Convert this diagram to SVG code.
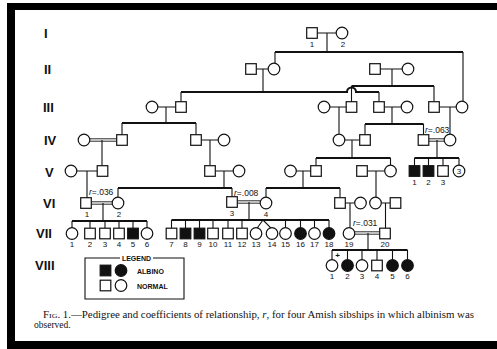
<svg xmlns="http://www.w3.org/2000/svg" width="497" height="349" viewBox="0 0 497 349">
<style>
.s{fill:#fff;stroke:#111;stroke-width:1.2}
.f{fill:#111;stroke:#111;stroke-width:1.2}
.ln{fill:none;stroke:#111;stroke-width:1.1}
.sib{fill:none;stroke:#111;stroke-width:2}
.dbl{fill:none;stroke:#111;stroke-width:0.9}
.gen{font-family:"Liberation Sans",Arial,sans-serif;font-weight:bold;font-size:13px;fill:#111}
.n{font-family:"Liberation Sans",Arial,sans-serif;font-size:8px;fill:#111;text-anchor:middle}
.r{font-family:"Liberation Sans",Arial,sans-serif;font-size:8.5px;fill:#111}
.lg{font-family:"Liberation Sans",Arial,sans-serif;font-weight:bold;font-size:7px;fill:#111}
.cap{font-family:"Liberation Serif","Times New Roman",serif;font-size:9.5px;fill:#111}
</style>
<defs>
<rect id="sq" x="-5.3" y="-5.3" width="10.6" height="10.6"/>
<circle id="ci" r="5.8"/>
</defs>
<rect width="497" height="349" fill="#fff"/>
<g id="frame" fill="#000">
<rect x="7" y="3" width="490" height="7"/>
<rect x="7" y="3" width="8" height="346"/>
<rect x="7" y="341" width="490" height="8"/>
</g>
<g id="generations">
<text class="gen" x="44" y="38">I</text>
<text class="gen" x="44" y="74">II</text>
<text class="gen" x="43" y="112">III</text>
<text class="gen" x="44" y="145">IV</text>
<text class="gen" x="45" y="177">V</text>
<text class="gen" x="43" y="208">VI</text>
<text class="gen" x="36" y="238">VII</text>
<text class="gen" x="35" y="270">VIII</text>
</g>
<g id="connectors">
<!-- Gen I -->
<path class="ln" d="M317.3 33H336.2M327 33V52"/>
<path class="sib" d="M275 52H463"/>
<path class="ln" d="M275 52V63.2M463 52V101.2"/>
<!-- Gen II -->
<path class="ln" d="M256.3 69H268.2M263 69V92"/>
<path class="ln" d="M380.3 69H402.2M392 69V86"/>
<!-- Gen III sibships -->
<path class="sib" d="M181 92H347A4.5 4.5 0 0 1 356 92H379"/>
<path class="ln" d="M181 92V101.7M379 92V101.7"/>
<path class="sib" d="M351.5 86H434"/>
<path class="ln" d="M351.5 86V101.7M434 86V101.7"/>
<!-- Gen III marriages -->
<path class="ln" d="M157.8 107H175.7M166 107V123"/>
<path class="ln" d="M329.8 107H346.2M339 107V133.7"/>
<path class="ln" d="M384.3 107H401.2M392 107V124"/>
<path class="ln" d="M439.3 107H456.2M450 107V134.2"/>
<!-- Gen IV sibships -->
<path class="sib" d="M122 123H196"/>
<path class="ln" d="M122 123V134.7M196 123V134.7"/>
<path class="sib" d="M365 124H423.5"/>
<path class="ln" d="M365 124V134.7M423.5 124V134.7"/>
<!-- Gen IV marriages -->
<path class="dbl" d="M89.8 138.8H116.7M89.8 141.2H116.7"/>
<path class="ln" d="M102 140V165.7"/>
<path class="ln" d="M201.3 140H218.2M210 140V165.7"/>
<path class="ln" d="M344.8 140H359.7M352 140V158"/>
<path class="dbl" d="M428.8 138.8H444.2M428.8 141.2H444.2"/>
<path class="ln" d="M437 140V158"/>
<!-- Gen V sibships -->
<path class="sib" d="M316 158H390.5"/>
<path class="ln" d="M316 158V165.7M390.5 158V165.2"/>
<path class="sib" d="M414.5 158H459"/>
<path class="ln" d="M414.5 158V165.7M428.5 158V165.7M443 158V165.7M459 158V165.2"/>
<!-- Gen V marriages -->
<path class="ln" d="M76.8 171H97.7M87 171V197.7"/>
<path class="ln" d="M215.3 171H233.2M224 171V188"/>
<path class="ln" d="M296.3 171H310.7M303 171V188"/>
<path class="ln" d="M367.3 171H384.7M376 171V197.2"/>
<!-- Gen VI sibships -->
<path class="sib" d="M118 188H232"/>
<path class="ln" d="M118 188V197.2M232 188V196.7"/>
<path class="sib" d="M266 188H340"/>
<path class="ln" d="M266 188V197.2M340 188V197.7"/>
<!-- Gen VI marriages -->
<path class="dbl" d="M91.3 201.8H112.2M91.3 204.2H112.2"/>
<path class="ln" d="M103 203V221"/>
<path class="dbl" d="M237.3 200.8H260.2M237.3 203.2H260.2"/>
<path class="ln" d="M249 202V220"/>
<path class="ln" d="M345.3 203H354.7M350 203V227.5"/>
<path class="ln" d="M381.3 203H390.2M385.5 203V228"/>
<!-- Gen VII sibships -->
<path class="sib" d="M72 221H147"/>
<path class="ln" d="M72 221V227.7M90 221V228.2M105 221V228.2M119 221V228.2M133 221V228.2M147 221V227.7"/>
<path class="sib" d="M171.5 220H329"/>
<path class="ln" d="M171.5 220V228.2M185.5 220V228.2M199.5 220V228.2M213 220V228.2M228 220V228.2M242 220V228.2M263 220L257 228.2M263 220L271 228.2M285.5 220V227.7M300.5 220V227.7M314.5 220V227.7M329 220V227.7"/>
<!-- Gen VII marriage -->
<path class="dbl" d="M354.8 231.8H379.7M354.8 234.2H379.7"/>
<path class="ln" d="M368 233V250"/>
<!-- Gen VIII sibship -->
<path class="sib" d="M332 250H407.5"/>
<path class="ln" d="M332 250V259.7M347.5 250V259.7M362 250V259.7M377 250V260.2M392.5 250V259.7M407.5 250V259.7"/>
</g>
<g id="gen1">
<use id="I-1" href="#sq" class="s" x="312" y="33"/>
<use id="I-2" href="#ci" class="s" x="342" y="33"/>
<text class="n" x="312" y="47">1</text>
<text class="n" x="343" y="47">2</text>
</g>
<g id="gen2">
<use id="II-1" href="#sq" class="s" x="251" y="69"/>
<use id="II-2" href="#ci" class="s" x="274" y="69"/>
<use id="II-3" href="#sq" class="s" x="375" y="69"/>
<use id="II-4" href="#ci" class="s" x="408" y="69"/>
</g>
<g id="gen3">
<use id="III-1" href="#ci" class="s" x="152" y="107"/>
<use id="III-2" href="#sq" class="s" x="181" y="107"/>
<use id="III-3" href="#ci" class="s" x="324" y="107"/>
<use id="III-4" href="#sq" class="s" x="351.5" y="107"/>
<use id="III-5" href="#sq" class="s" x="379" y="107"/>
<use id="III-6" href="#ci" class="s" x="407" y="107"/>
<use id="III-7" href="#sq" class="s" x="434" y="107"/>
<use id="III-8" href="#ci" class="s" x="462" y="107"/>
</g>
<g id="gen4">
<use id="IV-1" href="#ci" class="s" x="84" y="140"/>
<use id="IV-2" href="#sq" class="s" x="122" y="140"/>
<use id="IV-3" href="#sq" class="s" x="196" y="140"/>
<use id="IV-4" href="#ci" class="s" x="224" y="140"/>
<use id="IV-5" href="#ci" class="s" x="339" y="140"/>
<use id="IV-6" href="#sq" class="s" x="365" y="140"/>
<use id="IV-7" href="#sq" class="s" x="423.5" y="140"/>
<use id="IV-8" href="#ci" class="s" x="450" y="140"/>
<text class="r" x="425" y="133"><tspan font-style="italic">r</tspan>=.063</text>
</g>
<g id="gen5">
<use id="V-1" href="#ci" class="s" x="71" y="171"/>
<use id="V-2" href="#sq" class="s" x="102.5" y="171"/>
<use id="V-3" href="#sq" class="s" x="210" y="171"/>
<use id="V-4" href="#ci" class="s" x="239" y="171"/>
<use id="V-5" href="#ci" class="s" x="290.5" y="171"/>
<use id="V-6" href="#sq" class="s" x="316" y="171"/>
<use id="V-7" href="#sq" class="s" x="362" y="171"/>
<use id="V-8" href="#ci" class="s" x="390.5" y="171"/>
<use id="V-s1" href="#sq" class="f" x="414.5" y="171"/>
<use id="V-s2" href="#sq" class="f" x="428.5" y="171"/>
<use id="V-s3" href="#sq" class="s" x="443" y="171"/>
<use id="V-s4" href="#ci" class="s" x="459" y="171"/>
<text class="n" x="459" y="174">3</text>
<text class="n" x="414.5" y="185">1</text>
<text class="n" x="428.5" y="185">2</text>
<text class="n" x="443" y="185">3</text>
</g>
<g id="gen6">
<use id="VI-1" href="#sq" class="s" x="86" y="203"/>
<use id="VI-2" href="#ci" class="s" x="118" y="203"/>
<use id="VI-3" href="#sq" class="s" x="232" y="202"/>
<use id="VI-4" href="#ci" class="s" x="266" y="203"/>
<use id="VI-5" href="#sq" class="s" x="340" y="203"/>
<use id="VI-6" href="#ci" class="s" x="360.5" y="203"/>
<use id="VI-7" href="#ci" class="s" x="375.5" y="203"/>
<use id="VI-8" href="#sq" class="s" x="395.5" y="203"/>
<text class="r" x="89" y="195"><tspan font-style="italic">r</tspan>=.036</text>
<text class="r" x="234" y="196"><tspan font-style="italic">r</tspan>=.008</text>
<text class="n" x="87" y="217">1</text>
<text class="n" x="119" y="217">2</text>
<text class="n" x="232" y="216">3</text>
<text class="n" x="266" y="217">4</text>
</g>
<g id="gen7">
<use href="#ci" class="s" x="72" y="233.5"/>
<use href="#sq" class="s" x="90" y="233.5"/>
<use href="#sq" class="s" x="105" y="233.5"/>
<use href="#sq" class="s" x="119" y="233.5"/>
<use href="#sq" class="f" x="133" y="233.5"/>
<use href="#ci" class="s" x="147" y="233.5"/>
<use href="#sq" class="s" x="171.5" y="233.5"/>
<use href="#sq" class="f" x="185.5" y="233.5"/>
<use href="#sq" class="f" x="199.5" y="233.5"/>
<use href="#sq" class="s" x="213" y="233.5"/>
<use href="#sq" class="s" x="228" y="233.5"/>
<use href="#sq" class="s" x="242" y="233.5"/>
<use href="#ci" class="s" x="256" y="233.5"/>
<use href="#ci" class="s" x="272" y="233.5"/>
<use href="#ci" class="s" x="285.5" y="233.5"/>
<use href="#ci" class="f" x="300.5" y="233.5"/>
<use href="#ci" class="s" x="314.5" y="233.5"/>
<use href="#ci" class="f" x="329" y="233.5"/>
<use id="VII-19" href="#ci" class="s" x="349" y="233.5"/>
<use id="VII-20" href="#sq" class="s" x="385" y="233.5"/>
<text class="r" x="353" y="226"><tspan font-style="italic">r</tspan>=.031</text>
<text class="n" x="72" y="247">1</text>
<text class="n" x="90" y="247">2</text>
<text class="n" x="105" y="247">3</text>
<text class="n" x="119" y="247">4</text>
<text class="n" x="133" y="247">5</text>
<text class="n" x="147" y="247">6</text>
<text class="n" x="171.5" y="247">7</text>
<text class="n" x="185.5" y="247">8</text>
<text class="n" x="199.5" y="247">9</text>
<text class="n" x="213" y="247">10</text>
<text class="n" x="228" y="247">11</text>
<text class="n" x="242" y="247">12</text>
<text class="n" x="256" y="247">13</text>
<text class="n" x="272" y="247">14</text>
<text class="n" x="285.5" y="247">15</text>
<text class="n" x="300.5" y="247">16</text>
<text class="n" x="314.5" y="247">17</text>
<text class="n" x="329" y="247">18</text>
<text class="n" x="349" y="247">19</text>
<text class="n" x="385" y="247">20</text>
</g>
<g id="gen8">
<use href="#ci" class="s" x="332" y="265.5"/>
<use href="#ci" class="f" x="347.5" y="265.5"/>
<use href="#ci" class="s" x="362" y="265.5"/>
<use href="#sq" class="s" x="377" y="265.5"/>
<use href="#ci" class="f" x="392.5" y="265.5"/>
<use href="#ci" class="f" x="407.5" y="265.5"/>
<text class="n" x="337.5" y="258" font-weight="bold">+</text>
<text class="n" x="332" y="279">1</text>
<text class="n" x="347.5" y="279">2</text>
<text class="n" x="362" y="279">3</text>
<text class="n" x="377" y="279">4</text>
<text class="n" x="392.5" y="279">5</text>
<text class="n" x="407.5" y="279">6</text>
</g>
<g id="legend">
<path class="ln" stroke-width="1.3" d="M120 258H85V299H184V258H153"/>
<text class="lg" x="136.5" y="261" text-anchor="middle">LEGEND</text>
<use href="#sq" class="f" x="105.5" y="270.5"/>
<use href="#ci" class="f" x="121" y="270.5"/>
<use href="#sq" class="s" x="105.5" y="285.5"/>
<use href="#ci" class="s" x="121" y="285.5"/>
<text class="lg" x="137" y="274">ALBINO</text>
<text class="lg" x="137" y="289">NORMAL</text>
</g>
<g id="caption">
<text class="cap" x="43" y="318" textLength="431" lengthAdjust="spacingAndGlyphs"><tspan font-variant="small-caps">Fig.</tspan> 1.—Pedigree and coefficients of relationship, <tspan font-style="italic">r</tspan>, for four Amish sibships in which albinism was</text>
<text class="cap" x="34" y="328">observed.</text>
</g>
</svg>
